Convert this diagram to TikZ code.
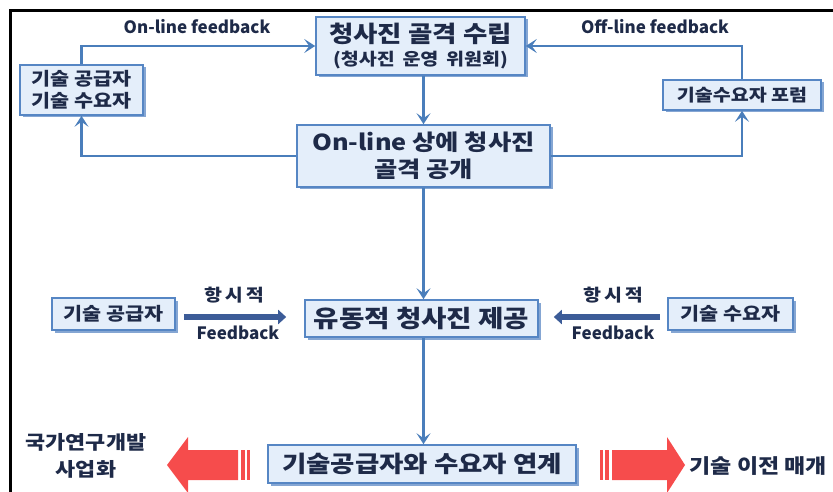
\documentclass[tikz,border=0pt]{standalone}
\usepackage{fontspec}
\setmainfont{Noto Sans CJK KR}
% slightly widened face for the Korean captions
\newfontfamily\widekr{Noto Sans CJK KR}[FakeStretch=1.15]
\usetikzlibrary{arrows.meta,shadows,calc}
\definecolor{boxfill}{RGB}{228,238,250}
\definecolor{boxline}{RGB}{86,134,196}
\definecolor{boxshade}{RGB}{120,156,206}
\definecolor{ink}{RGB}{30,42,72}
\definecolor{flow}{RGB}{74,126,187}
\definecolor{bar}{RGB}{60,92,152}
\definecolor{hot}{RGB}{246,76,76}
\newcommand{\fs}[2]{\fontsize{#1}{#2}\selectfont}
\begin{document}
\begin{tikzpicture}[x=1pt,y=-1pt,
  every node/.style={text=ink},
  stepbox/.style={draw=boxline,line width=1.6pt,fill=boxfill,align=center,
    inner sep=0pt,drop shadow={shadow xshift=2.5pt,shadow yshift=-2.5pt,fill=boxshade,opacity=0.9}},
  link/.style={draw=flow,line width=2.6pt,-{Stealth[length=11pt,width=14pt,inset=5pt]}},
  thickbar/.style={draw=bar,line width=6pt,-{Triangle[length=8pt,width=14pt]}},
  lbl/.style={font=\bfseries\fs{17}{19}},
  klbl/.style={font=\widekr\bfseries\fs{17}{19}},
  hotarrow/.style={fill=hot,draw=none}]
\useasboundingbox (0,0) rectangle (833,492);
% frame
\draw[line width=3pt,line cap=rect] (10.5,492) -- (10.5,11) -- (833,11);

% boxes
\node[stepbox,minimum width=209pt,minimum height=58pt,font=\widekr\bfseries\fs{17}{23}] (plan) at (420.5,46)
  {{\fs{23}{23}청사진 골격 수립}\\{\spaceskip=0.45em (청사진 운영 위원회)}};
\node[stepbox,minimum width=123pt,minimum height=50pt,font=\widekr\bfseries\fs{18}{22}] (users) at (81.5,90)
  {기술 공급자\\기술 수요자};
\node[stepbox,minimum width=253pt,minimum height=62pt,font=\widekr\bfseries\fs{22}{27}] (open) at (423.5,156)
  {On-line 상에 청사진\\골격 공개};
\node[stepbox,minimum width=158pt,minimum height=30pt,font=\widekr\bfseries\fs{17}{19}] (forum) at (742,95)
  {기술수요자 포럼};
\node[stepbox,minimum width=123pt,minimum height=32pt,font=\widekr\bfseries\fs{18}{20}] (supply) at (113.5,314)
  {기술 공급자};
\node[stepbox,minimum width=233pt,minimum height=37pt,font=\widekr\bfseries\fs{24}{26}] (fluid) at (421.5,318.5)
  {유동적 청사진 제공};
\node[stepbox,minimum width=125pt,minimum height=32pt,font=\widekr\bfseries\fs{18}{20}] (demand) at (730.5,314)
  {기술 수요자};
\node[stepbox,minimum width=308pt,minimum height=38pt,font=\widekr\bfseries\fs{23}{25}] (match) at (422,464)
  {기술공급자와 수요자 연계};

% feedback loops
\draw[link] (users.north) |- (plan.west);
\draw[link] (forum.north) |- (plan.east);
\draw[link] (open.west) -| (users.south);
\draw[link] (open.east) -| (forum.south);
\node[lbl] (onfb) at (197,27) {On-line feedback};
\node[lbl] (offfb) at (655,27) {Off-line feedback};

% main flow
\draw[link] (plan.south -| open.north) -- (open.north);
\draw[link] (open.south) -- (open.south |- fluid.north);
\draw[link] (open.south |- fluid.south) -- (open.south |- match.north);

% constant feedback
\coordinate (sgo) at ($(supply.east)+(8,3)$);
\coordinate (dgo) at ($(demand.west)+(-7,3)$);
\draw[thickbar] (sgo) -- ($(fluid.west)+(-18,-1.5)$);
\draw[thickbar] (dgo) -- ($(fluid.east)+(15,-1.5)$);
\node[klbl] (lt1) at (234,295) {항\kern3pt 시\kern3pt 적};
\node[lbl] (lt2) at (238,333) {Feedback};
\node[klbl] (rt1) at (613,295) {항\kern3pt 시\kern3pt 적};
\node[lbl] (rt2) at (613,333) {Feedback};

% outcome arrows
\fill[hotarrow] (167,465) -- (188,437) -- (188,450) -- (238,450) -- (238,480) -- (188,480) -- (188,493) -- cycle;
\fill[hotarrow] (241,450) rectangle (245,480);
\fill[hotarrow] (247,450) rectangle (250,480);
\fill[hotarrow] (685,465) -- (667,437) -- (667,450) -- (612,450) -- (612,480) -- (667,480) -- (667,493) -- cycle;
\fill[hotarrow] (605,450) rectangle (609,480);
\fill[hotarrow] (600,450) rectangle (603,480);
\node[font=\widekr\bfseries\fs{19}{27},align=center] (nat) at (86,456) {국가연구개발\\사업화};
\node[font=\widekr\bfseries\fs{20}{22},anchor=west] (xfer) at (686,466) {기술 이전 매개};
\end{tikzpicture}
\end{document}
